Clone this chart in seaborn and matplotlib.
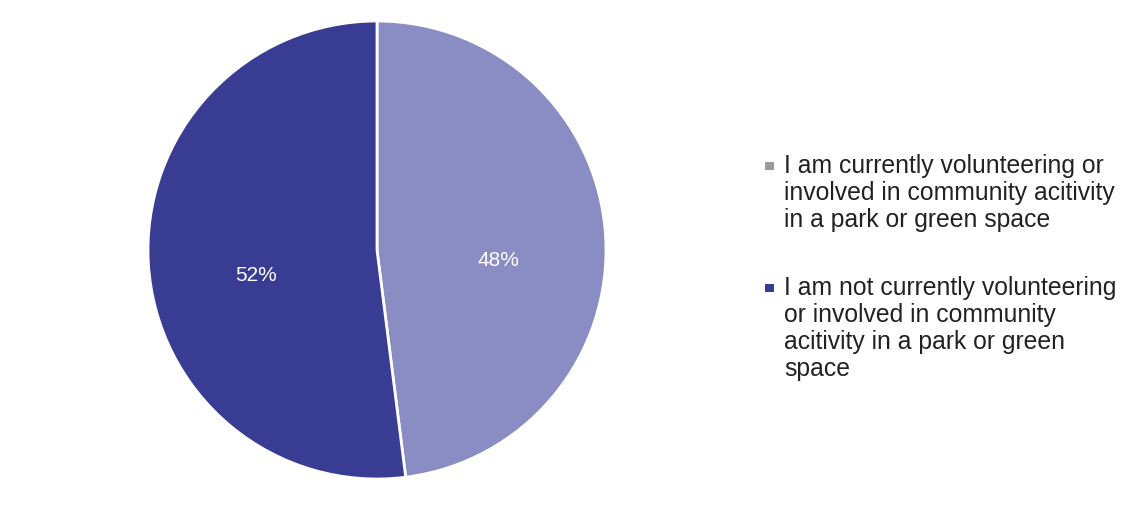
"""
Pie chart: share of respondents volunteering in parks or green spaces.
"""

import matplotlib.pyplot as plt
import matplotlib.transforms as mtransforms
from matplotlib.legend_handler import HandlerPatch
from matplotlib.patches import Rectangle
import seaborn as sns

labels = [
    "I am currently volunteering or\ninvolved in community acitivity\nin a park or green space",
    "I am not currently volunteering\nor involved in community\nacitivity in a park or green\nspace",
]
values = [48, 52]
colors = ["#8A8DC4", "#393C93"]
legend_colors = ["#9A9A9A", "#393C93"]

LEG_FS = 17.8
LINESPACING = 1.15


class FirstLineSquare(HandlerPatch):
    """Small square marker aligned with the first line of a multi-line label."""

    def create_artists(self, legend, orig_handle, xdescent, ydescent,
                       width, height, fontsize, trans):
        n = orig_handle.get_label().count("\n") + 1
        size = 0.34 * fontsize
        pitch = 0.972 * LINESPACING * fontsize
        yc = (n - 1) / 2 * pitch + 0.36 * fontsize
        p = Rectangle((-xdescent, yc - size / 2), size, size,
                      facecolor=orig_handle.get_facecolor(), edgecolor="none",
                      transform=trans)
        return [p]


sns.set_theme(style="white")
plt.rcParams["font.family"] = ["Liberation Sans", "DejaVu Sans"]

fig = plt.figure(figsize=(11.36, 5.31), dpi=100)
ax = fig.add_axes([148 / 1136, 52 / 531, 458 / 1136, 458 / 531])

wedges, texts, autotexts = ax.pie(
    values,
    labels=labels,
    labeldistance=None,
    colors=sns.color_palette(colors),
    startangle=90,
    counterclock=False,
    autopct="%1.0f%%",
    pctdistance=0.53,
    wedgeprops=dict(edgecolor="white", linewidth=2),
    textprops=dict(color="white", fontsize=15),
)
ax.set_xlim(-1, 1)
ax.set_ylim(-1, 1)
ax.set_aspect("equal")

# nudge the percentage labels down a little, as in the original
shift = mtransforms.offset_copy(ax.transData, fig=fig, x=0, y=-18, units="dots")
for t in autotexts:
    t.set_transform(shift)

legend_handles = []
for w, c in zip(wedges, legend_colors):
    h = Rectangle((0, 0), 1, 1, facecolor=c, label=w.get_label())
    legend_handles.append(h)

leg = fig.legend(
    legend_handles,
    labels,
    loc="upper left",
    bbox_to_anchor=(743 / 1136, 1 - 132 / 531),
    frameon=False,
    fontsize=LEG_FS,
    handlelength=0.34,
    handleheight=0.7,
    handletextpad=0.42,
    labelspacing=1.8,
    handler_map={Rectangle: FirstLineSquare()},
)
for t in leg.get_texts():
    t.set_color("#222222")
    t.set_linespacing(LINESPACING)

fig.savefig("out.png", dpi=100)
